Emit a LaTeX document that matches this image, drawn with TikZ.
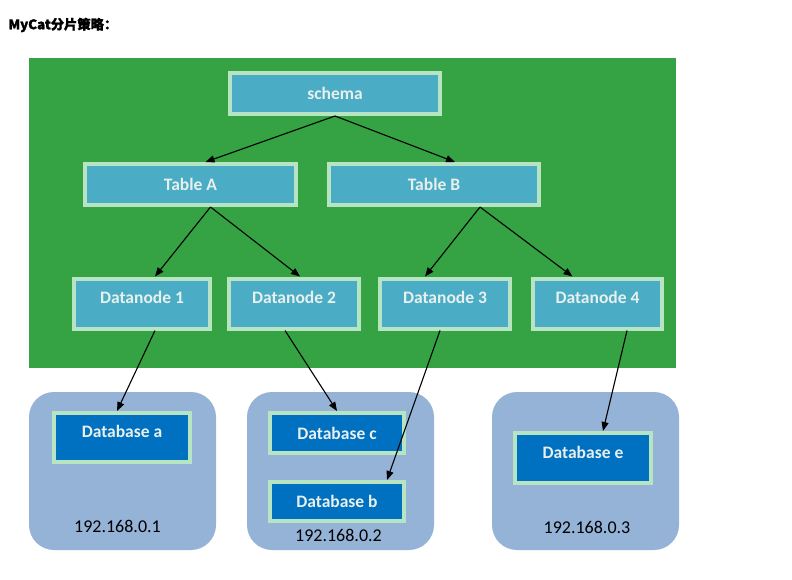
\documentclass[tikz,border=0pt]{standalone}
\usepackage{fontspec}
\setmainfont{Carlito}
\newfontfamily\cjk{Noto Sans CJK SC}[FakeBold=1.2]
\usetikzlibrary{arrows.meta}
\definecolor{mc-green}{RGB}{53,163,67}
\definecolor{mc-teal}{RGB}{75,172,198}
\definecolor{mc-mint}{RGB}{183,228,194}
\definecolor{mc-blue}{RGB}{0,112,192}
\definecolor{mc-host}{RGB}{149,179,215}
\definecolor{mc-text}{RGB}{232,240,238}

\begin{document}
\begin{tikzpicture}[
  x=1pt, y=-1pt,
  box/.style={rectangle, draw=mc-mint, line width=4pt, inner sep=0pt, text=mc-text, font=\fontsize{17.5}{20}\selectfont\bfseries},
  tbox/.style={box, fill=mc-teal},
  dbox/.style={box, fill=mc-blue},
  raised/.style={text height=12pt, text depth=12pt},
  host/.style={rectangle, rounded corners=25pt, fill=mc-host, minimum width=187pt, minimum height=158pt},
  ip/.style={font=\fontsize{18}{20}\selectfont, text=black},
  arrow/.style={-{Triangle[length=9pt,width=7pt]}, line width=1.1pt}
]
  \useasboundingbox (0,0) rectangle (792,580);
  \node[anchor=west, font=\cjk\fontsize{13.3}{16}\selectfont\bfseries] (title) at (5,25) {MyCat分片策略：};

  \fill[mc-green] (29,58) rectangle (676,368);

  \node[tbox, minimum width=210pt, minimum height=41pt] (schema) at (335,93.5) {schema};
  \node[tbox, minimum width=211pt, minimum height=41pt] (ta) at (190.5,184.5) {Table A};
  \node[tbox, minimum width=210pt, minimum height=41pt] (tb) at (434,184.5) {Table B};

  \node[tbox, raised, minimum width=136pt, minimum height=50pt] (dn1) at (142,303.5) {Datanode 1};
  \node[tbox, raised, minimum width=130pt, minimum height=50pt] (dn2) at (294,303.5) {Datanode 2};
  \node[tbox, raised, minimum width=130pt, minimum height=50pt] (dn3) at (445,303.5) {Datanode 3};
  \node[tbox, raised, minimum width=129pt, minimum height=50pt] (dn4) at (597.5,303.5) {Datanode 4};

  \node[host] (srv1) at (122.5,471) {};
  \node[host] (srv2) at (340.5,471) {};
  \node[host] (srv3) at (585.5,471) {};

  \node[dbox, raised, minimum width=136pt, minimum height=49pt] (dba) at (122,437.5) {Database a};
  \node[dbox, minimum width=134pt, minimum height=40pt] (dbc) at (337,433) {Database c};
  \node[dbox, minimum width=134pt, minimum height=39pt] (dbb) at (337,501.5) {Database b};
  \node[dbox, raised, minimum width=136pt, minimum height=50pt] (dbe) at (583,458) {Database e};

  \node[ip] (ip1) at (117.5,526) {192.168.0.1};
  \node[ip] (ip2) at (338.5,535) {192.168.0.2};
  \node[ip] (ip3) at (587,527) {192.168.0.3};

  \draw[arrow] (schema.south) -- ([xshift=15pt]ta.north);
  \draw[arrow] (schema.south) -- ([xshift=21pt]tb.north);
  \draw[arrow] ([xshift=20pt]ta.south) -- ([xshift=13pt]dn1.north);
  \draw[arrow] ([xshift=20pt]ta.south) -- ([xshift=6pt]dn2.north);
  \draw[arrow] ([xshift=46pt]tb.south) -- ([xshift=-20pt]dn3.north);
  \draw[arrow] ([xshift=46pt]tb.south) -- ([xshift=-25pt]dn4.north);
  \draw[arrow] ([xshift=13pt]dn1.south) -- ([xshift=-5pt]dba.north);
  \draw[arrow] ([xshift=-9pt]dn2.south) -- (dbc.north);
  \draw[arrow] ([xshift=-5pt]dn3.south) -- ([xshift=50pt]dbb.north);
  \draw[arrow] ([xshift=29.5pt]dn4.south) -- ([xshift=20pt]dbe.north);
\end{tikzpicture}
\end{document}
